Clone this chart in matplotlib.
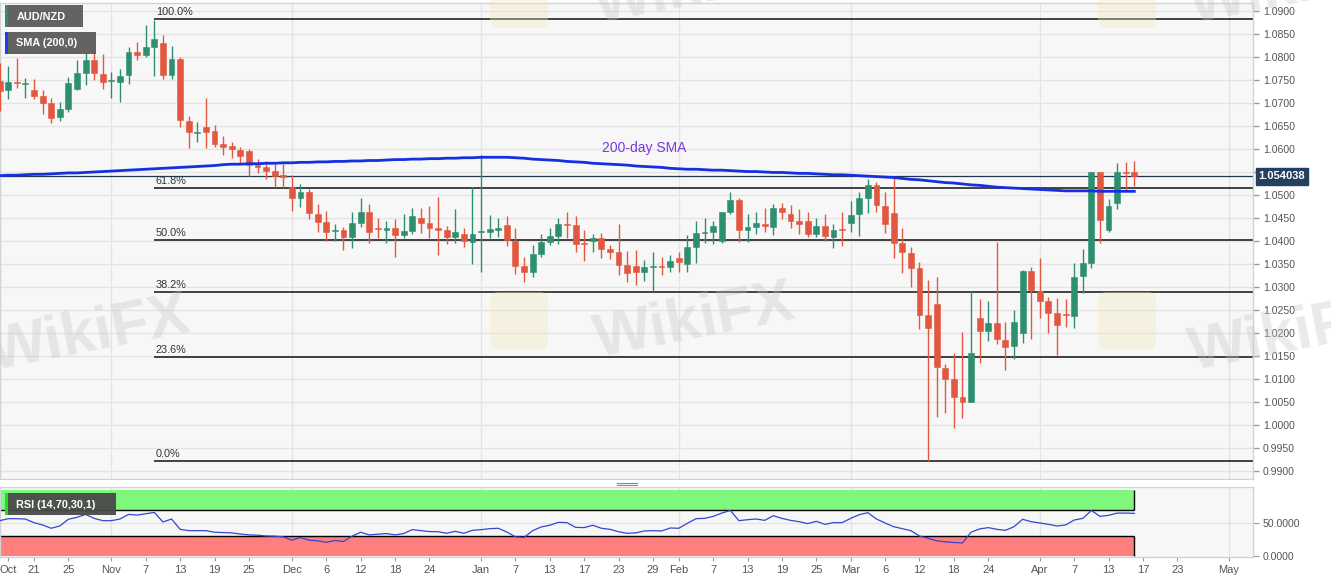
import numpy as np
import pandas as pd
import matplotlib
matplotlib.use('Agg')
import matplotlib.pyplot as plt
from matplotlib.patches import Rectangle, FancyBboxPatch
import matplotlib.transforms as mtransforms

plt.rcParams['font.family'] = ['Liberation Sans', 'DejaVu Sans']

# daily AUD/NZD candles, 15 Oct 2019 .. 16 Apr 2020 (weekdays)
opens = [1.0748, 1.0728, 1.0746, 1.0741, 1.0728, 1.0715, 1.0700, 1.0669, 1.0687, 1.0730,
         1.0765, 1.0794, 1.0763, 1.0748, 1.0746, 1.0761, 1.0811, 1.0804, 1.0822, 1.0830,
         1.0761, 1.0795, 1.0661, 1.0635, 1.0648, 1.0639, 1.0611, 1.0606, 1.0598, 1.0596,
         1.0565, 1.0561, 1.0552, 1.0543, 1.0518, 1.0494, 1.0507, 1.0459, 1.0441, 1.0422,
         1.0423, 1.0409, 1.0440, 1.0462, 1.0429, 1.0425, 1.0429, 1.0413, 1.0422, 1.0451,
         1.0440, 1.0428, 1.0424, 1.0409, 1.0415, 1.0397, 1.0419, 1.0419, 1.0424, 1.0435,
         1.0401, 1.0346, 1.0333, 1.0372, 1.0397, 1.0411, 1.0437, 1.0435, 1.0395, 1.0399,
         1.0406, 1.0383, 1.0375, 1.0348, 1.0346, 1.0332, 1.0343, 1.0344, 1.0343, 1.0362,
         1.0349, 1.0386, 1.0417, 1.0419, 1.0399, 1.0462, 1.0489, 1.0424, 1.0431, 1.0436,
         1.0431, 1.0471, 1.0459, 1.0444, 1.0444, 1.0415, 1.0433, 1.0409, 1.0425, 1.0439,
         1.0458, 1.0494, 1.0522, 1.0477, 1.0460, 1.0395, 1.0373, 1.0341, 1.0239, 1.0263,
         1.0123, 1.0099, 1.0060, 1.0049, 1.0233, 1.0205, 1.0221, 1.0185, 1.0171, 1.0201,
         1.0335, 1.0292, 1.0270, 1.0243, 1.0241, 1.0237, 1.0323, 1.0353, 1.0549, 1.0424,
         1.0483, 1.0549, 1.0549]
highs = [1.0787, 1.0780, 1.0798, 1.0754, 1.0752, 1.0728, 1.0711, 1.0702, 1.0757, 1.0794,
         1.0809, 1.0811, 1.0806, 1.0768, 1.0774, 1.0822, 1.0833, 1.0870, 1.0880, 1.0848,
         1.0824, 1.0800, 1.0672, 1.0659, 1.0711, 1.0652, 1.0628, 1.0615, 1.0604, 1.0600,
         1.0578, 1.0574, 1.0567, 1.0567, 1.0543, 1.0523, 1.0512, 1.0480, 1.0466, 1.0436,
         1.0431, 1.0462, 1.0493, 1.0480, 1.0449, 1.0444, 1.0447, 1.0458, 1.0471, 1.0471,
         1.0476, 1.0495, 1.0433, 1.0469, 1.0428, 1.0518, 1.0587, 1.0457, 1.0451, 1.0454,
         1.0428, 1.0366, 1.0391, 1.0415, 1.0429, 1.0451, 1.0464, 1.0454, 1.0425, 1.0415,
         1.0417, 1.0391, 1.0436, 1.0379, 1.0380, 1.0359, 1.0377, 1.0366, 1.0370, 1.0377,
         1.0413, 1.0444, 1.0449, 1.0444, 1.0462, 1.0507, 1.0493, 1.0458, 1.0462, 1.0471,
         1.0480, 1.0482, 1.0478, 1.0469, 1.0462, 1.0451, 1.0458, 1.0436, 1.0464, 1.0486,
         1.0507, 1.0534, 1.0529, 1.0507, 1.0536, 1.0429, 1.0388, 1.0355, 1.0315, 1.0321,
         1.0133, 1.0157, 1.0203, 1.0292, 1.0273, 1.0270, 1.0397, 1.0223, 1.0251, 1.0338,
         1.0343, 1.0362, 1.0278, 1.0276, 1.0273, 1.0353, 1.0382, 1.0550, 1.0550, 1.0491,
         1.0569, 1.0572, 1.0575]
lows = [1.0683, 1.0709, 1.0733, 1.0711, 1.0709, 1.0676, 1.0656, 1.0661, 1.0680, 1.0728,
        1.0739, 1.0750, 1.0730, 1.0711, 1.0702, 1.0741, 1.0794, 1.0800, 1.0758, 1.0752,
        1.0752, 1.0648, 1.0602, 1.0615, 1.0602, 1.0604, 1.0587, 1.0580, 1.0569, 1.0541,
        1.0548, 1.0535, 1.0517, 1.0515, 1.0466, 1.0473, 1.0447, 1.0419, 1.0400, 1.0400,
        1.0380, 1.0384, 1.0431, 1.0395, 1.0406, 1.0395, 1.0365, 1.0406, 1.0415, 1.0417,
        1.0406, 1.0370, 1.0394, 1.0395, 1.0386, 1.0349, 1.0332, 1.0406, 1.0409, 1.0389,
        1.0328, 1.0310, 1.0321, 1.0366, 1.0391, 1.0393, 1.0406, 1.0377, 1.0357, 1.0375,
        1.0362, 1.0361, 1.0326, 1.0310, 1.0304, 1.0314, 1.0292, 1.0325, 1.0332, 1.0333,
        1.0332, 1.0352, 1.0396, 1.0393, 1.0395, 1.0458, 1.0397, 1.0397, 1.0415, 1.0420,
        1.0413, 1.0447, 1.0428, 1.0415, 1.0408, 1.0408, 1.0400, 1.0384, 1.0389, 1.0419,
        1.0411, 1.0460, 1.0462, 1.0417, 1.0362, 1.0330, 1.0301, 1.0208, 0.9922, 1.0017,
        1.0026, 0.9993, 1.0015, 1.0049, 1.0135, 1.0183, 1.0176, 1.0120, 1.0144, 1.0178,
        1.0186, 1.0232, 1.0199, 1.0152, 1.0214, 1.0210, 1.0286, 1.0342, 1.0395, 1.0420,
        1.0469, 1.0511, 1.0520]
closes = [1.0726, 1.0746, 1.0743, 1.0743, 1.0715, 1.0700, 1.0668, 1.0687, 1.0743, 1.0765,
          1.0794, 1.0765, 1.0746, 1.0750, 1.0759, 1.0811, 1.0804, 1.0822, 1.0839, 1.0761,
          1.0795, 1.0663, 1.0637, 1.0637, 1.0637, 1.0611, 1.0604, 1.0600, 1.0585, 1.0565,
          1.0561, 1.0552, 1.0541, 1.0539, 1.0494, 1.0507, 1.0460, 1.0442, 1.0419, 1.0423,
          1.0409, 1.0440, 1.0462, 1.0420, 1.0427, 1.0427, 1.0413, 1.0421, 1.0455, 1.0440,
          1.0428, 1.0425, 1.0409, 1.0419, 1.0399, 1.0415, 1.0421, 1.0426, 1.0428, 1.0402,
          1.0346, 1.0333, 1.0372, 1.0398, 1.0411, 1.0437, 1.0435, 1.0394, 1.0393, 1.0406,
          1.0383, 1.0375, 1.0348, 1.0330, 1.0332, 1.0343, 1.0344, 1.0343, 1.0356, 1.0355,
          1.0386, 1.0418, 1.0419, 1.0433, 1.0462, 1.0489, 1.0424, 1.0430, 1.0439, 1.0433,
          1.0472, 1.0462, 1.0444, 1.0436, 1.0415, 1.0433, 1.0411, 1.0424, 1.0423, 1.0457,
          1.0493, 1.0522, 1.0478, 1.0438, 1.0396, 1.0375, 1.0341, 1.0239, 1.0210, 1.0125,
          1.0100, 1.0060, 1.0049, 1.0156, 1.0205, 1.0221, 1.0186, 1.0170, 1.0223, 1.0335,
          1.0293, 1.0270, 1.0244, 1.0217, 1.0239, 1.0321, 1.0352, 1.0549, 1.0446, 1.0476,
          1.0549, 1.0547, 1.054038]

sma200 = [1.0542, 1.0543, 1.0543, 1.0544, 1.0545, 1.0545, 1.0546, 1.0547, 1.0548, 1.0548,
          1.0549, 1.0550, 1.0551, 1.0552, 1.0553, 1.0554, 1.0555, 1.0556, 1.0557, 1.0558,
          1.0559, 1.0560, 1.0561, 1.0562, 1.0563, 1.0564, 1.0566, 1.0567, 1.0567, 1.0568,
          1.0568, 1.0569, 1.0569, 1.0570, 1.0570, 1.0571, 1.0571, 1.0572, 1.0572, 1.0573,
          1.0573, 1.0574, 1.0574, 1.0575, 1.0575, 1.0576, 1.0577, 1.0577, 1.0578, 1.0578,
          1.0579, 1.0579, 1.0580, 1.0580, 1.0581, 1.0581, 1.0582, 1.0582, 1.0582, 1.0582,
          1.0581, 1.0580, 1.0578, 1.0577, 1.0576, 1.0575, 1.0573, 1.0572, 1.0571, 1.0569,
          1.0568, 1.0567, 1.0566, 1.0565, 1.0563, 1.0562, 1.0561, 1.0560, 1.0558, 1.0557,
          1.0556, 1.0556, 1.0555, 1.0554, 1.0554, 1.0553, 1.0552, 1.0551, 1.0551, 1.0550,
          1.0549, 1.0549, 1.0548, 1.0547, 1.0547, 1.0546, 1.0545, 1.0544, 1.0544, 1.0543,
          1.0542, 1.0541, 1.0540, 1.0539, 1.0538, 1.0536, 1.0534, 1.0533, 1.0531, 1.0529,
          1.0527, 1.0526, 1.0524, 1.0522, 1.0521, 1.0519, 1.0517, 1.0516, 1.0515, 1.0514,
          1.0513, 1.0512, 1.0511, 1.0510, 1.0509, 1.0509, 1.0509, 1.0509, 1.0508, 1.0508,
          1.0508, 1.0508, 1.0508]

rsi14 = [53.5, 56.5, 56.5, 56.0, 50.5, 47.0, 42.0, 45.5, 55.6, 58.6,
         63.0, 57.0, 53.5, 53.5, 56.0, 63.0, 62.0, 64.0, 66.0, 51.5,
         56.0, 40.4, 38.4, 38.4, 38.4, 36.0, 35.5, 35.0, 33.3, 32.0,
         31.5, 30.3, 30.0, 29.0, 24.0, 28.0, 24.0, 23.0, 20.7, 23.5,
         22.0, 30.0, 36.0, 32.0, 33.0, 34.0, 32.0, 34.0, 40.0, 38.4,
         37.0, 36.8, 34.4, 37.4, 34.4, 38.9, 39.9, 41.4, 42.0, 36.4,
         29.0, 28.0, 38.4, 44.0, 46.6, 51.0, 50.5, 43.4, 43.0, 46.6,
         42.0, 40.4, 36.8, 34.4, 35.0, 37.9, 38.4, 37.9, 42.4, 42.0,
         49.5, 56.5, 57.0, 60.0, 65.0, 69.0, 53.5, 55.0, 56.0, 54.0,
         61.0, 57.0, 54.0, 52.0, 49.0, 52.5, 48.0, 50.5, 50.5, 57.0,
         62.6, 65.6, 56.0, 50.0, 44.4, 41.4, 38.4, 30.3, 26.8, 23.0,
         21.5, 20.5, 19.7, 36.0, 41.0, 43.0, 40.4, 38.9, 44.4, 55.6,
         52.0, 50.0, 48.0, 45.5, 47.0, 54.5, 57.0, 69.0, 60.0, 61.6,
         65.0, 65.0, 64.6]

fib_high = 1.0882
fib_low = 0.9922
fib_ratios = [1.0, 0.618, 0.5, 0.382, 0.236, 0.0]
fib_start = '2019-11-08'

tick_days = ['2019-10-16', '2019-10-21', '2019-10-25', '2019-11-01', '2019-11-07', '2019-11-13',
             '2019-11-19', '2019-11-25', '2019-12-02', '2019-12-06', '2019-12-12', '2019-12-18',
             '2019-12-24', '2020-01-01', '2020-01-07', '2020-01-13', '2020-01-17', '2020-01-23',
             '2020-01-29', '2020-02-03', '2020-02-07', '2020-02-13', '2020-02-19', '2020-02-25',
             '2020-03-02', '2020-03-06', '2020-03-12', '2020-03-18', '2020-03-24', '2020-04-01',
             '2020-04-07', '2020-04-13', '2020-04-17', '2020-04-23', '2020-05-01']
tick_names = ['Oct', '21', '25', 'Nov', '7', '13', '19', '25', 'Dec', '6', '12', '18', '24',
              'Jan', '7', '13', '17', '23', '29', 'Feb', '7', '13', '19', '25', 'Mar', '6',
              '12', '18', '24', 'Apr', '7', '13', '17', '23', 'May']
month_days = ['2019-11-01', '2019-12-02', '2020-01-01', '2020-02-03', '2020-03-02',
              '2020-04-01', '2020-05-01']

dates = pd.bdate_range('2019-10-15', '2020-04-16')
axis_days = pd.bdate_range('2019-10-15', '2020-05-08')
def dpos(d):
    return axis_days.get_loc(pd.Timestamp(d))

x = np.arange(len(dates))
o = np.array(opens); h = np.array(highs); l = np.array(lows); c = np.array(closes)

UP = '#2e8e70'
DOWN = '#e2573f'
BG = '#f7f7f7'
GRID = '#e4e4e4'
TXT = '#555555'

W, H = 1331, 583
fig = plt.figure(figsize=(W / 100, H / 100), dpi=100)
fig.patch.set_facecolor('white')
ax = fig.add_axes([0, 1 - 479 / H, 1253 / W, 476 / H])
rax = fig.add_axes([0, 1 - 557 / H, 1253 / W, 70 / H])

xmin, xmax = 0.045, 145.8
for a in (ax, rax):
    a.set_facecolor(BG)
    a.set_xlim(xmin, xmax)
    for s in a.spines.values():
        s.set_color('#cfd3d8')
        s.set_linewidth(1)
    for d in month_days:
        a.axvline(dpos(d), color=GRID, lw=1, zorder=0)

# main price panel
ax.set_ylim(0.98826, 1.09174)
yt = np.round(np.arange(0.99, 1.0901, 0.005), 4)
ax.set_yticks(yt)
ax.set_yticklabels(['%.4f' % v for v in yt])
for v in yt:
    ax.axhline(v, color=GRID, lw=1, zorder=0)
ax.yaxis.tick_right()
ax.tick_params(axis='y', direction='out', length=4, width=1, color='#9a9a9a',
               labelcolor=TXT, labelsize=7.6, pad=3)
ax.set_xticks([])

# candles
colors = np.where(c >= o, UP, DOWN)
ax.vlines(x, l, h, colors=colors, lw=1, zorder=3)
body_lo = np.minimum(o, c)
body_h = np.maximum(np.abs(c - o), 0.00022)
ax.bar(x, body_h, bottom=body_lo, width=0.68, color=colors, edgecolor=colors,
       linewidth=0.4, zorder=4)

# 200 SMA
ax.plot(x, sma200, color='#1530e0', lw=2, zorder=5)
ax.text(dpos('2020-01-28'), 1.0602, '200-day SMA', color='#7b35e0', fontsize=10,
        ha='center', va='center', zorder=6)

# fibonacci retracement
fx = dpos(fib_start)
for r in fib_ratios:
    lvl = fib_low + (fib_high - fib_low) * r
    ax.hlines(lvl, fx, xmax, color='#111111', lw=1.1, zorder=2)
    ax.annotate('%.1f%%' % (r * 100), (fx, lvl), xytext=(1, 1.5), textcoords='offset points',
                fontsize=7.8, color='#333333', ha='left', va='bottom', zorder=6)

# last price line and label
last = closes[-1]
ax.axhline(last, color='#20364f', lw=0.9, zorder=2)
trans = mtransforms.blended_transform_factory(ax.transAxes, ax.transData)
ax.text(1.0045, last, '%.6f' % last, transform=trans, fontsize=8, fontweight='bold',
        color='white', ha='left', va='center', zorder=10, clip_on=False,
        bbox=dict(boxstyle='square,pad=0.28', fc='#234060', ec='#234060'))

# RSI panel
rax.set_ylim(-1.5, 104.5)
xb = [xmin, x[-1]]
rax.fill_between(xb, 70, 100, color='#7ef77c', lw=0, zorder=1)
rax.fill_between(xb, 0, 30, color='#ff7f7f', lw=0, zorder=1)
rax.hlines([70, 30], xmin, x[-1], color='black', lw=1, zorder=2)
rax.vlines(x[-1], 70, 100, color='black', lw=1, zorder=2)
rax.vlines(x[-1], 0, 30, color='black', lw=1, zorder=2)
rax.axhline(50, color=GRID, lw=1, zorder=0)
rax.plot(x, rsi14, color='#3446d0', lw=0.9, zorder=3)
rax.yaxis.tick_right()
rax.set_yticks([0, 50])
rax.set_yticklabels(['0.0000', '50.0000'])
rax.tick_params(axis='y', direction='out', length=4, color='#9a9a9a', labelcolor=TXT,
                labelsize=7.6, pad=3)
rax.set_xticks([dpos(d) for d in tick_days])
rax.set_xticklabels(tick_names)
rax.tick_params(axis='x', direction='out', length=3, color='#9a9a9a', labelcolor=TXT,
                labelsize=8, pad=3)

# overlay: legend boxes, splitter, watermark
ov = fig.add_axes([0, 0, 1, 1])
ov.set_xlim(0, W)
ov.set_ylim(H, 0)
ov.axis('off')
ov.patch.set_alpha(0)

for (x0, y0, x1, y1, fc, stripe, label) in [
        (5, 5, 83, 27, '#5b5b5b', UP, 'AUD/NZD'),
        (5, 32, 96, 54, '#5b5b5b', '#1a3cff', 'SMA (200,0)'),
        (5, 493, 116, 515, '#4a4a4a', '#1fe01f', 'RSI (14,70,30,1)')]:
    ov.add_patch(Rectangle((x0, y0), x1 - x0, y1 - y0, fc=fc, ec='none', alpha=0.95, zorder=5))
    ov.add_patch(Rectangle((x0, y0), 2.5, y1 - y0, fc=stripe, ec='none', zorder=6))
    ov.text(x0 + 11.5, (y0 + y1) / 2 + 0.5, label, color='white', fontsize=7.8,
            fontweight='bold', ha='left', va='center', zorder=7)

ov.add_patch(Rectangle((0, 479.5), 1253, 7.5, fc='white', ec='none', zorder=1))
for yy in (482.5, 484.5):
    ov.plot([617, 637], [yy, yy], color='#8a8a8a', lw=0.8, zorder=2)

for (wx, wy) in [(695, 322), (90, 335), (1290, 335), (695, -12), (1290, -12)]:
    ov.text(wx, wy, 'WikiFX', fontsize=44, fontweight='bold', color='#c8c4c2', alpha=0.35,
            rotation=11, ha='center', va='center', zorder=3)
for (lx, ly) in [(490, 292), (1098, 292), (490, -30), (1098, -30)]:
    ov.add_patch(FancyBboxPatch((lx, ly), 58, 58, boxstyle='round,pad=0,rounding_size=8',
                                fc='#f3e6b8', ec='none', alpha=0.35, zorder=3))

fig.savefig('out.png', dpi=100)
